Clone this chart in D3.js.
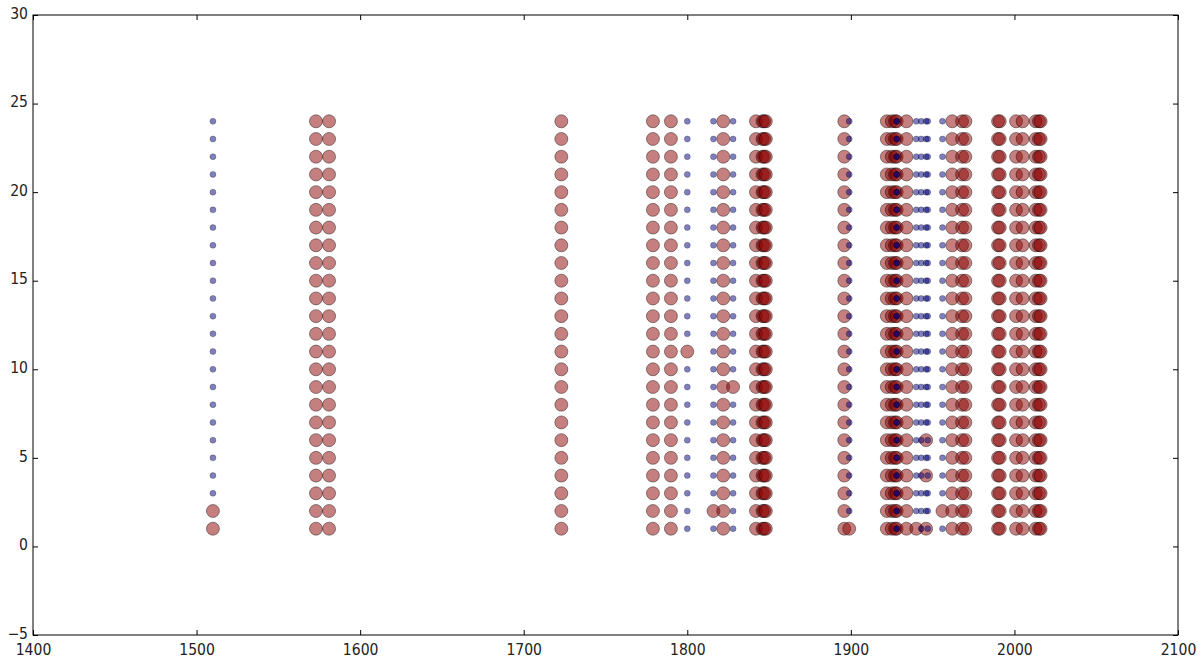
<!DOCTYPE html>
<html>
<head>
<meta charset="utf-8">
<script src="https://cdn.jsdelivr.net/npm/d3@7"></script>
<style>
  html, body { margin: 0; padding: 0; background: #fff; }
  svg { display: block; }
  .tick text { font-family: "DejaVu Sans", sans-serif; }
</style>
</head>
<body>
<svg id="chart" width="1204" height="659"></svg>
<script>
// ---- data ----
const rows = [1,2,3,4,5,6,7,8,9,10,11,12,13,14,15,16,17,18,19,20,21,22,23,24];
// column years and their default marker kind
const colYears = [1510,1573,1581,1723,1779,1790,1800,1816,1822,1828,1842,1846,1847,1848,
                  1896,1899,1922,1925,1927,1928,1928,1928,1934,1940,1943,1946,1947,1956,
                  1962,1968,1970,1990,1991,2001,2005,2013,2015,2016];
const colKinds = ["blue","red","red","red","red","red","blue","blue","red","blue","red","red","red","red",
                  "red","blue","red","red","red","red","blue","blue","red","blue","blue","blue","blue","blue",
                  "red","red","red","red","red","red","red","red","red","red"];
// exceptions: a single cell of a column drawn with the other kind
const exYears = [1510,1510,1800,1816,1828,1899,1940,1946,1946,1946,1956];
const exRows  = [1,   2,   11,  2,   9,   1,   1,   1,   4,   6,   2];
const exKinds = ["red","red","red","red","red","red","red","red","red","red","red"];

const xTicks = [1400,1500,1600,1700,1800,1900,2000,2100];
const yTicks = [-5,0,5,10,15,20,25,30];

// ---- layout ----
const svg = d3.select("#chart");
const L = 33, R = 1178, T = 15, B = 635;
const x = d3.scaleLinear().domain([1400,2100]).range([L,R]);
const y = d3.scaleLinear().domain([-5,30]).range([B,T]);

// build points
const points = [];
colYears.forEach((yr, i) => {
  rows.forEach(r => {
    let kind = colKinds[i];
    const firstIdx = colYears.indexOf(yr);
    if (firstIdx === i) {
      exYears.forEach((ey, j) => {
        if (ey === yr && exRows[j] === r) kind = exKinds[j];
      });
    }
    points.push({year: yr, row: r, kind});
  });
});

const g = svg.append("g");
const reds = points.filter(p => p.kind === "red");
const blues = points.filter(p => p.kind === "blue");

g.selectAll("circle.red").data(reds).join("circle")
  .attr("class","red")
  .attr("cx", d => x(d.year)).attr("cy", d => y(d.row))
  .attr("r", 6.5)
  .attr("fill", "#8b0000").attr("fill-opacity", 0.5)
  .attr("stroke", "#000").attr("stroke-opacity", 0.4).attr("stroke-width", 1);

g.selectAll("circle.blue").data(blues).join("circle")
  .attr("class","blue")
  .attr("cx", d => x(d.year)).attr("cy", d => y(d.row))
  .attr("r", 3)
  .attr("fill", "#000080").attr("fill-opacity", 0.5)
  .attr("stroke", "#000").attr("stroke-opacity", 0.3).attr("stroke-width", 0.8);

// ---- axes (inward ticks on all sides) ----
const fmt = d => (d < 0 ? "\u2212" + Math.abs(d) : String(d));
const tl = 5;
const sy = 1.12;

const xb = svg.append("g").attr("transform", `translate(0,${B})`)
  .call(d3.axisBottom(x).tickValues(xTicks).tickFormat(fmt).tickSizeInner(-tl).tickSizeOuter(0));
const xt = svg.append("g").attr("transform", `translate(0,${T})`)
  .call(d3.axisTop(x).tickValues(xTicks).tickFormat("").tickSizeInner(-tl).tickSizeOuter(0));
const yl = svg.append("g").attr("transform", `translate(${L},0)`)
  .call(d3.axisLeft(y).tickValues(yTicks).tickFormat(fmt).tickSizeInner(-tl).tickSizeOuter(0).tickPadding(5));
const yr = svg.append("g").attr("transform", `translate(${R},0)`)
  .call(d3.axisRight(y).tickValues(yTicks).tickFormat("").tickSizeInner(-tl).tickSizeOuter(0));

[xb,xt,yl,yr].forEach(a => {
  a.select(".domain").remove();
  a.selectAll(".tick line").attr("stroke","#000").attr("stroke-width",1);
});
svg.selectAll(".tick text").attr("fill","#222").style("font-size","14px");
xb.selectAll(".tick text").attr("dy", null).attr("dominant-baseline","middle")
  .attr("transform",`scale(1,${sy})`).attr("y", 15.5/sy);
yl.selectAll(".tick text").attr("dy", null).attr("dominant-baseline","middle")
  .attr("transform",`scale(1,${sy})`).attr("y", -1/sy);

// frame
svg.append("rect").attr("x", L).attr("y", T).attr("width", R-L).attr("height", B-T)
  .attr("fill","none").attr("stroke","#000").attr("stroke-width",1);
</script>
</body>
</html>
